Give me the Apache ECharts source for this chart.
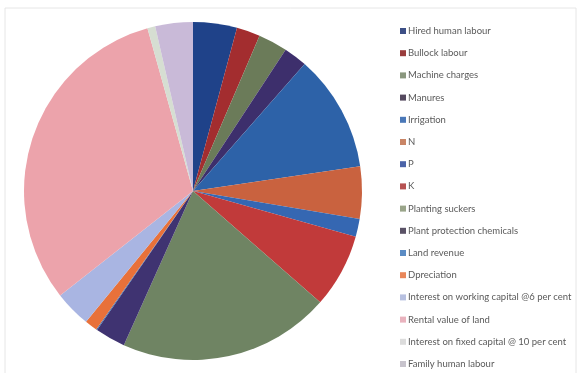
<!DOCTYPE html>
<html>
<head>
<meta charset="utf-8">
<script src="https://cdn.jsdelivr.net/npm/echarts@6/dist/echarts.min.js"></script>
<style>
  html, body { margin: 0; padding: 0; background: #fff; }
  #chart { width: 579px; height: 373px; }
</style>
</head>
<body>
<div id="chart"></div>
<script>
// cost items, in legend order
const items = [
    'Hired human labour',
    'Bullock labour',
    'Machine charges',
    'Manures',
    'Irrigation',
    'N',
    'P',
    'K',
    'Planting suckers',
    'Plant protection chemicals',
    'Land revenue',
    'Dpreciation',
    'Interest on working capital @6 per cent',
    'Rental value of land',
    'Interest on fixed capital @ 10 per cent',
    'Family human labour'
];
// share of total cost (%)
const shares = [4.2, 2.25, 2.8, 2.25, 11.2, 5.0, 1.7, 7.1, 20.3, 2.9, 0.1, 1.2, 3.5, 31.3, 0.75, 3.6];
const colors = [
    '#1f4289', '#a32d2f', '#6b7b59', '#3d2f6c', '#2d62a8', '#c9623f', '#3567b2', '#c13a3a',
    '#6f8463', '#3f3371', '#3a6cb0', '#e8713a', '#a9b5e2', '#eca3ab', '#d6ded2', '#c9bad8'
];
const legendColors = [
    '#3d4f86', '#9a3d3d', '#8a977e', '#55495f', '#4a78b8', '#c98566', '#4b63a8', '#b65252',
    '#9aa58a', '#5a5266', '#5b8cc4', '#e9875a', '#b7c0e0', '#e9b3be', '#dcdcdc', '#c7c3cc'
];

const chart = echarts.init(document.getElementById('chart'));

chart.setOption({
    animation: false,
    color: colors,
    graphic: [{
        type: 'rect',
        shape: { x: 5, y: 8, width: 571, height: 370 },
        style: { fill: 'none', stroke: '#e6e6e6', lineWidth: 1 },
        silent: true
    }],
    legend: {
        orient: 'vertical',
        left: 400,
        top: 26,
        padding: 0,
        height: 347,
        itemWidth: 6,
        itemHeight: 6,
        itemGap: 12.2,
        icon: 'rect',
        textStyle: { color: '#5a5a5a', fontSize: 9.5, fontFamily: 'Lato', padding: [0, 0, 0, -3] },
        data: items.map((n, i) => ({ name: n, itemStyle: { color: legendColors[i] } }))
    },
    series: [{
        type: 'pie',
        center: [193, 191],
        radius: 169,
        startAngle: 90,
        clockwise: true,
        label: { show: false },
        labelLine: { show: false },
        itemStyle: { borderWidth: 0 },
        emphasis: { disabled: true },
        data: items.map((n, i) => ({ name: n, value: shares[i] }))
    }]
});
</script>
</body>
</html>
